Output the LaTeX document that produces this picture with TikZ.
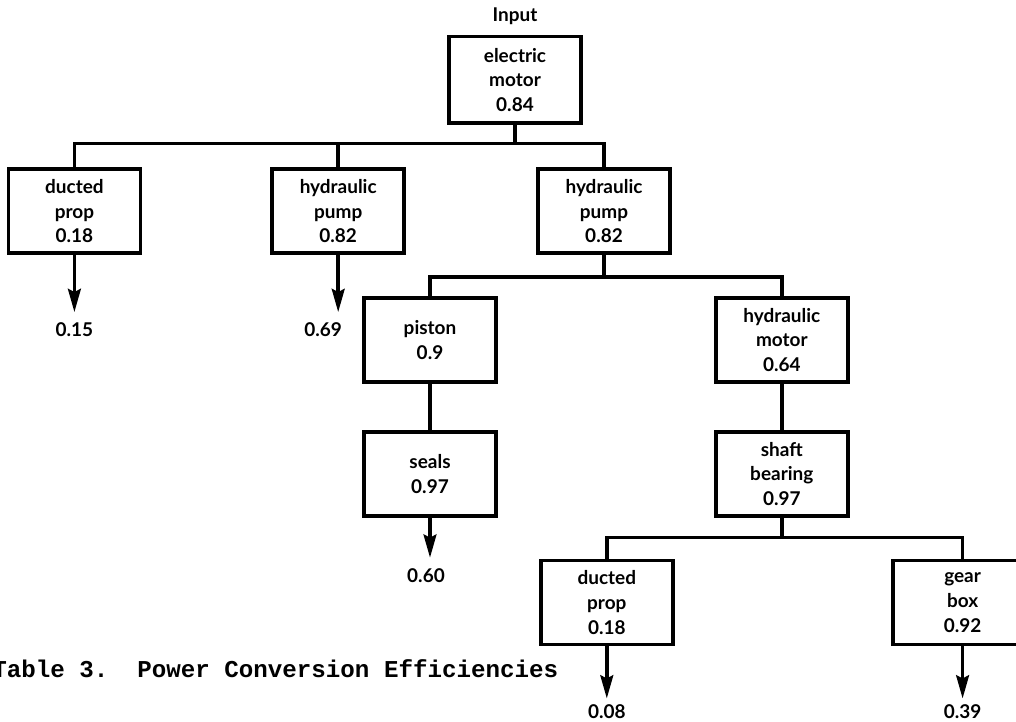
\documentclass[tikz,border=0pt]{standalone}
\usepackage{fontspec}
\setmainfont{Lato}
\newfontfamily\capfont{Liberation Mono}
\usetikzlibrary{positioning,arrows.meta,calc}

\begin{document}
\begin{tikzpicture}[
    node distance=1.05cm and 3.3cm,
    block/.style={rectangle,draw=black,line width=2.7pt,minimum width=3.3cm,minimum height=2.1cm,inner sep=2pt,font=\fontsize{13.5}{17.5}\selectfont\bfseries,align=center},
    link/.style={line width=2.5pt,black},
    outflow/.style={link,-{Stealth[length=0.58cm,width=0.32cm,inset=0.08cm]}},
    effval/.style={font=\fontsize{13.5}{15}\selectfont\bfseries,inner sep=1pt}
]
\useasboundingbox (0,0) rectangle (25.4,-18.05);

\node[block,minimum height=2.17cm] (motor) at (12.875,-2.0) {electric\\motor\\0.84};
\node[above=0.22cm of motor,effval] (input) {Input};

\node[block,below=1.05cm of motor,xshift=2.225cm] (hpump2) {hydraulic\\pump\\0.82};
\node[block,left=3.25cm of hpump2] (hpump1) {hydraulic\\pump\\0.82};
\node[block,left=3.2cm of hpump1] (dprop1) {ducted\\prop\\0.18};

\node[block,below=1.025cm of hpump2,xshift=-4.35cm] (piston) {piston\\0.9};
\node[block,right=5.4cm of piston] (hmotor) {hydraulic\\motor\\0.64};
\node[block,below=1.15cm of piston] (seals) {seals\\0.97};
\node[block,below=1.15cm of hmotor] (shaft) {shaft\\bearing\\0.97};
\node[block,below=1.025cm of shaft,xshift=-4.375cm] (dprop2) {ducted\\prop\\0.18};
\node[block,right=5.4cm of dprop2,minimum width=3.5cm] (gear) {gear\\box\\0.92};

% tree links
\coordinate[below=0.45cm of motor] (bus1);
\draw[link] (motor) -- (bus1);
\draw[link] (bus1) -| (dprop1);
\draw[link] (bus1) -| (hpump1);
\draw[link] (bus1) -| (hpump2);

\coordinate[below=0.55cm of hpump2] (bus2);
\draw[link] (hpump2) -- (bus2);
\draw[link] (bus2) -| (piston);
\draw[link] (bus2) -| (hmotor);
\draw[link] (piston) -- (seals);
\draw[link] (hmotor) -- (shaft);

\coordinate[below=0.5cm of shaft] (bus3);
\draw[link] (shaft) -- (bus3);
\draw[link] (bus3) -| (dprop2);
\draw[link] (bus3) -| (gear);

% outputs
\coordinate[below=1.425cm of dprop1] (end1);
\coordinate[below=1.425cm of hpump1] (end2);
\coordinate[below=1.0cm of seals] (end3);
\coordinate[below=1.3cm of dprop2] (end4);
\coordinate[below=1.3cm of gear] (end5);
\draw[outflow] (dprop1) -- (end1);
\draw[outflow] (hpump1) -- (end2);
\draw[outflow] (seals) -- (end3);
\draw[outflow] (dprop2) -- (end4);
\draw[outflow] (gear) -- (end5);

\node[effval,below=0.22cm of end1] (v1) {0.15};
\node[effval,below=0.22cm of end2,xshift=-0.375cm] (v2) {0.69};
\node[effval,below=0.22cm of end3,xshift=-0.1cm] (v3) {0.60};
\node[effval,below=0.12cm of end4] (v4) {0.08};
\node[effval,below=0.12cm of end5] (v5) {0.39};

\node[anchor=base west,inner sep=0pt,font=\capfont\bfseries\fontsize{17.2}{20}\selectfont] (caption) at (-0.2,-16.925) {Table 3.\ \ Power Conversion Efficiencies};

\end{tikzpicture}
\end{document}
